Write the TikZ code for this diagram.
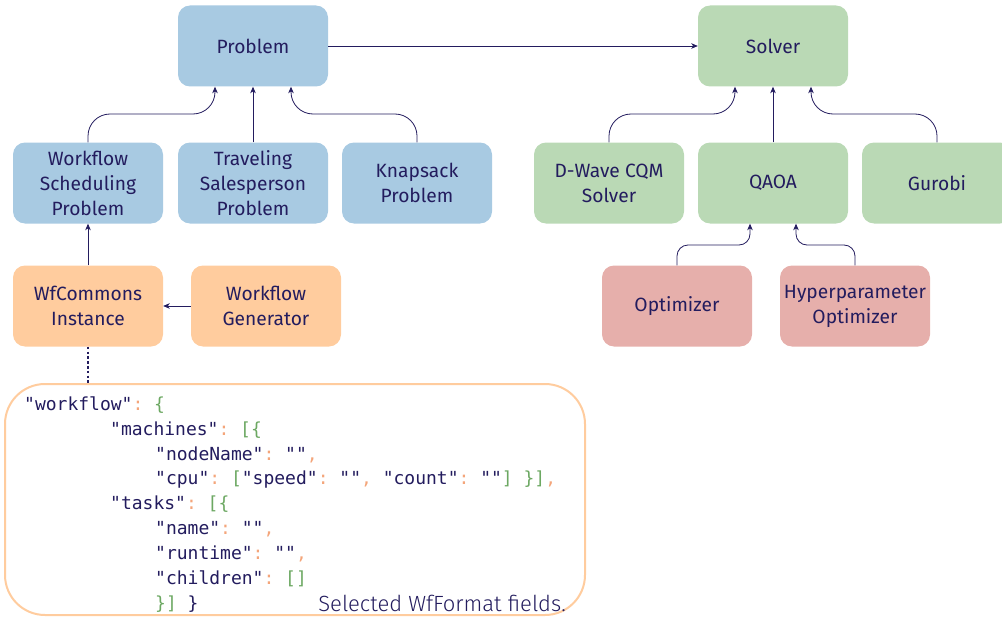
\documentclass[tikz,border=0pt]{standalone}
\usepackage{fontspec}
\setmainfont{Fira Sans}
\setmonofont{DejaVu Sans Mono}
\newfontfamily\captionface{Fira Sans Light}
\usetikzlibrary{arrows.meta}

\definecolor{ink}{HTML}{231C5E}
\definecolor{bluebox}{HTML}{A8CAE2}
\definecolor{greenbox}{HTML}{BAD9B5}
\definecolor{orangebox}{HTML}{FFCC9E}
\definecolor{redbox}{HTML}{E6AFAB}
\definecolor{punct}{HTML}{F4A57A}
\definecolor{brack}{HTML}{6CA862}

% JSON token colours
\newcommand\jkey[1]{\textcolor{ink}{#1}}
\newcommand\jpun[1]{\textcolor{punct}{#1}}
\newcommand\jbr[1]{\textcolor{brack}{#1}}

\tikzset{
  box/.style={rounded corners=12pt, minimum width=150pt, minimum height=81pt,
    align=center, text=ink, inner sep=0pt, font=\fontsize{19.2}{25}\selectfont},
  probbox/.style={box, fill=bluebox},
  solvbox/.style={box, fill=greenbox},
  wfbox/.style={box, fill=orangebox},
  optbox/.style={box, fill=redbox},
  arr/.style={draw=ink, line width=0.8pt, -{Stealth[length=6.5pt,width=5.5pt,inset=1.8pt]}},
  elbow/.style={arr, rounded corners=22pt},
  shortelbow/.style={arr, rounded corners=11pt},
  jline/.style={anchor=base west, inner sep=0pt, font=\ttfamily\fontsize{18}{25}\selectfont},
}

\begin{document}
\begin{tikzpicture}[x=1pt, y=-1pt]
\useasboundingbox (0,0) rectangle (1002,618);

% problem hierarchy
\node[probbox] (prob) at (253,46) {Problem};
\node[probbox] (wsp)  at (88,183)  {Workflow\\Scheduling\\Problem};
\node[probbox] (tsp)  at (253,183) {Traveling\\Salesperson\\Problem};
\node[probbox] (knap) at (417,183) {Knapsack\\Problem};

% workflow inputs
\node[wfbox] (wfc) at (88,306)  {WfCommons\\Instance};
\node[wfbox] (gen) at (266,306) {Workflow\\Generator};

% solvers
\node[solvbox] (solv) at (773,46)  {Solver};
\node[solvbox] (dw)   at (609,183) {D-Wave CQM\\Solver};
\node[solvbox] (qaoa) at (773,183) {QAOA};
\node[solvbox] (gur)  at (937,183) {Gurobi};

% QAOA optimizers
\node[optbox] (opt)  at (677,306) {Optimizer};
\node[optbox] (hopt) at (855,306) {Hyperparameter\\Optimizer};

% attachment points on parent boxes
\coordinate (pl) at ([xshift=-38pt]prob.south);
\coordinate (pr) at ([xshift=38pt]prob.south);
\coordinate (sl) at ([xshift=-38pt]solv.south);
\coordinate (sr) at ([xshift=38pt]solv.south);
\coordinate (ql) at ([xshift=-23pt]qaoa.south);
\coordinate (qr) at ([xshift=23pt]qaoa.south);

% connectors
\draw[arr] (prob.east) -- (solv.west);
\draw[elbow] (wsp.north) |- (150,114) -| (pl);
\draw[arr] (tsp.north) -- (prob.south);
\draw[elbow] (knap.north) |- (350,114) -| (pr);
\draw[elbow] (dw.north) |- (670,114) -| (sl);
\draw[arr] (qaoa.north) -- (solv.south);
\draw[elbow] (gur.north) |- (870,114) -| (sr);
\draw[shortelbow] (opt.north) |- (715,245) -| (ql);
\draw[shortelbow] (hopt.north) |- (825,245) -| (qr);
\draw[arr] (wfc.north) -- (wsp.south);
\draw[arr] (gen.west) -- (wfc.east);

% WfFormat excerpt
\node[draw=orangebox, line width=2pt, fill=white, rounded corners=40pt,
      minimum width=580pt, minimum height=231pt, inner sep=0pt] (json) at (295,499.5) {};
\draw[draw=ink, line width=2.8pt, dash pattern=on 2.6pt off 2.2pt] (wfc.south) -- (wfc.south |- json.north);

\node[jline] (l0) at (24,410)  {\jkey{"workflow"}\jpun{:} \jbr{\{}};
\node[jline] (l1) at (110,435) {\jkey{"machines"}\jpun{:} \jbr{[\{}};
\node[jline] (l2) at (155,460) {\jkey{"nodeName"}\jpun{:} \jkey{""}\jpun{,}};
\node[jline] (l3) at (155,484) {\jkey{"cpu"}\jpun{:} \jbr{[}\jkey{"speed"}\jpun{:} \jkey{""}\jpun{,} \jkey{"count"}\jpun{:} \jkey{""}\jbr{]} \jbr{\}]}\jpun{,}};
\node[jline] (l4) at (110,509) {\jkey{"tasks"}\jpun{:} \jbr{[\{}};
\node[jline] (l5) at (155,534) {\jkey{"name"}\jpun{:} \jkey{""}\jpun{,}};
\node[jline] (l6) at (155,559) {\jkey{"runtime"}\jpun{:} \jkey{""}\jpun{,}};
\node[jline] (l7) at (155,584) {\jkey{"children"}\jpun{:} \jbr{[]}};
\node[jline] (l8) at (155,609) {\jbr{\}]} \jkey{\}}};

\node[anchor=base east, inner sep=0pt, text=ink, font=\captionface\fontsize{22}{26}\selectfont]
  (cap) at (566,611) {Selected WfFormat fields.};
\end{tikzpicture}
\end{document}
